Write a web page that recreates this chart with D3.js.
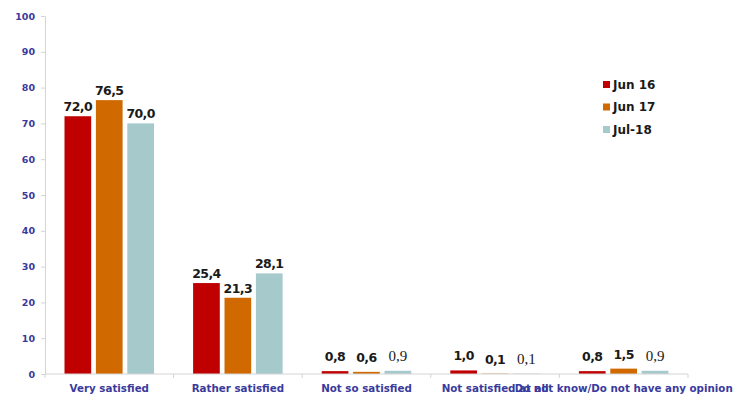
<!DOCTYPE html>
<html>
<head>
<meta charset="utf-8">
<script src="https://cdn.jsdelivr.net/npm/d3@7"></script>
<style>
  html, body { margin: 0; padding: 0; background: #fff; }
  svg { display: block; }
</style>
</head>
<body>
<svg id="chart" width="737" height="397"></svg>
<script>
// Survey answers by wave
const categories = ["Very satisfied", "Rather satisfied", "Not so satisfied", "Not satisfied at all", "Do not know/Do not have any opinion"];
const series = ["Jun 16", "Jun 17", "Jul-18"];
const jun16 = [72.0, 25.4, 0.8, 1.0, 0.8];
const jun17 = [76.5, 21.3, 0.6, 0.1, 1.5];
const jul18 = [70.0, 28.1, 0.9, 0.1, 0.9];
const yTicks = [0, 10, 20, 30, 40, 50, 60, 70, 80, 90, 100];

const colors = ["#c00000", "#d06a00", "#a6c9cc"];
const values = [jun16, jun17, jul18];

const svg = d3.select("#chart");
const plotLeft = 45, plotRight = 688, plotTop = 16, plotBottom = 374;

const x0 = d3.scaleBand().domain(categories).range([plotLeft, plotRight]).paddingInner(0).paddingOuter(0);
const x1 = d3.scaleBand().domain(series).range([19.5, 109]).paddingInner(0.15);
const y = d3.scaleLinear().domain([0, 100]).range([plotBottom, plotTop]);
const color = d3.scaleOrdinal().domain(series).range(colors);

const axisColor = "#d4d4d4";
const labelColor = "#3a3a9c";
const fontSans = "Verdana, 'DejaVu Sans', sans-serif";

// y axis
const yAxis = svg.append("g")
  .attr("transform", `translate(${plotLeft},0)`)
  .call(d3.axisLeft(y).tickValues(yTicks).tickSize(4).tickPadding(6).tickFormat(d3.format("d")));
yAxis.select(".domain").attr("stroke", axisColor);
yAxis.selectAll(".tick line").attr("stroke", axisColor);
yAxis.selectAll(".tick text")
  .attr("fill", labelColor)
  .style("font-family", fontSans)
  .style("font-weight", "bold")
  .style("font-size", "9.5px");

// bars
const rows = [];
categories.forEach((c, i) => {
  series.forEach((s, j) => rows.push({ cat: c, ser: s, v: values[j][i] }));
});

const g = svg.append("g");
g.selectAll("rect")
  .data(rows)
  .join("rect")
  .attr("x", d => x0(d.cat) + x1(d.ser))
  .attr("y", d => y(d.v))
  .attr("width", x1.bandwidth())
  .attr("height", d => Math.max(0, y(0) - y(d.v)))
  .attr("fill", d => color(d.ser));

// value labels
const isSerif = d => d.ser === "Jul-18" && d.v < 5;
g.selectAll("text.val")
  .data(rows)
  .join("text")
  .attr("class", "val")
  .attr("x", d => x0(d.cat) + x1(d.ser) + x1.bandwidth() / 2)
  .attr("y", d => y(d.v) - (d.v < 5 ? 10 : 5))
  .attr("text-anchor", "middle")
  .attr("fill", "#1a1a1a")
  .style("font-family", d => isSerif(d) ? "'Liberation Serif', 'Times New Roman', serif" : fontSans)
  .style("font-weight", d => isSerif(d) ? "normal" : "bold")
  .style("font-size", d => isSerif(d) ? "15px" : "12.5px")
  .style("letter-spacing", d => isSerif(d) ? "0px" : "-0.6px")
  .text(d => d3.format(".1f")(d.v).replace(".", ","));

// x axis
const xAxis = svg.append("g")
  .attr("transform", `translate(0,${plotBottom})`);
xAxis.append("line")
  .attr("x1", plotLeft).attr("x2", plotRight)
  .attr("stroke", axisColor);
xAxis.selectAll("line.sep")
  .data(categories.map(c => x0(c)).concat([plotRight]))
  .join("line")
  .attr("class", "sep")
  .attr("x1", d => d).attr("x2", d => d)
  .attr("y1", 0).attr("y2", 4)
  .attr("stroke", axisColor);
xAxis.selectAll("text")
  .data(categories)
  .join("text")
  .attr("x", d => x0(d) + x0.bandwidth() / 2)
  .attr("y", 18)
  .attr("text-anchor", "middle")
  .attr("fill", labelColor)
  .style("font-family", fontSans)
  .style("font-weight", "bold")
  .style("font-size", "10.3px")
  .text(d => d);

// legend
const legend = svg.append("g").attr("transform", "translate(603,81)");
series.forEach((s, i) => {
  const row = legend.append("g").attr("transform", `translate(0,${i * 22.5})`);
  row.append("rect").attr("width", 7).attr("height", 7).attr("fill", color(s));
  row.append("text")
    .attr("x", 10).attr("y", 7.5)
    .attr("fill", "#1a1a1a")
    .style("font-family", fontSans)
    .style("font-weight", "bold")
    .style("font-size", "12px")
    .text(s);
});
</script>
</body>
</html>
